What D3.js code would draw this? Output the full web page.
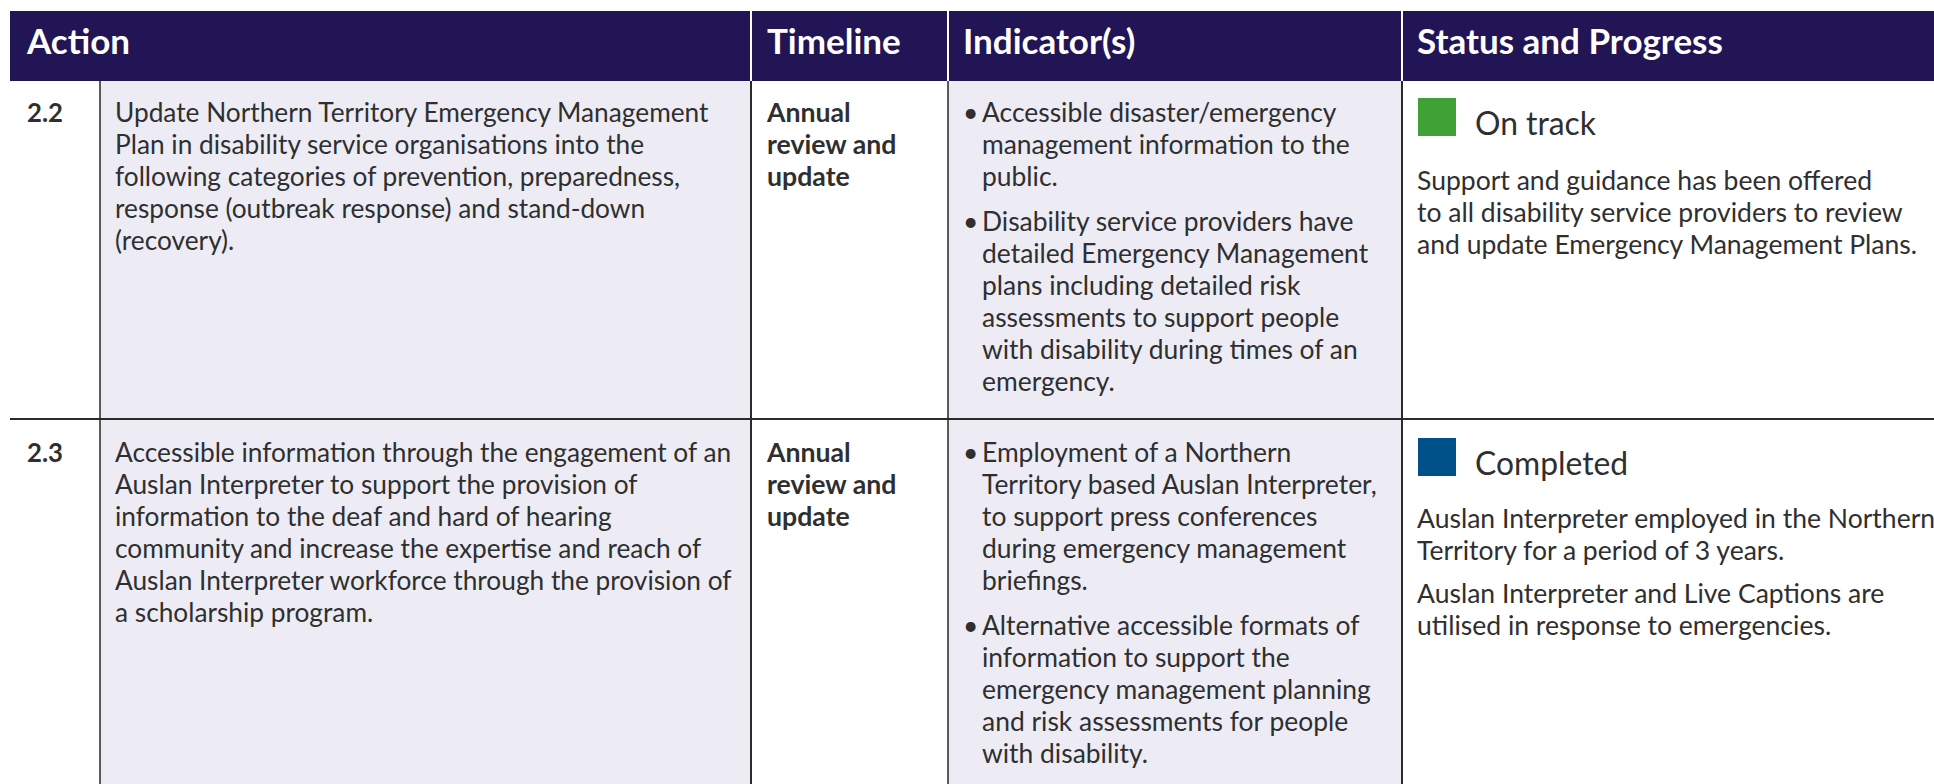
<!DOCTYPE html>
<html><head><meta charset="utf-8">
<script src="https://cdn.jsdelivr.net/npm/d3@7"></script>
<style>body{margin:0;background:#fff}svg{display:block}</style>
</head><body><svg id="c" width="1934" height="784"></svg>
<script>
// ---------- data ----------
const headers = ["Action", "Timeline", "Indicator(s)", "Status and Progress"];
const columns = ["num", "action", "timeline", "indicator", "status"];
const actionIds = ["2.2", "2.3"];
const actionText = [
  ["Update Northern Territory Emergency Management",
   "Plan in disability service organisations into the",
   "following categories of prevention, preparedness,",
   "response (outbreak response) and stand-down",
   "(recovery)."],
  ["Accessible information through the engagement of an",
   "Auslan Interpreter to support the provision of",
   "information to the deaf and hard of hearing",
   "community and increase the expertise and reach of",
   "Auslan Interpreter workforce through the provision of",
   "a scholarship program."]
];
const timelineText = [
  ["Annual", "review and", "update"],
  ["Annual", "review and", "update"]
];
const indicatorText = [
  [["Accessible disaster/emergency", "management information to the", "public."],
   ["Disability service providers have", "detailed Emergency Management", "plans including detailed risk",
    "assessments to support people", "with disability during times of an", "emergency."]],
  [["Employment of a Northern", "Territory based Auslan Interpreter,", "to support press conferences",
    "during emergency management", "briefings."],
   ["Alternative accessible formats of", "information to support the", "emergency management planning",
    "and risk assessments for people", "with disability."]]
];
const statusLabels = ["On track", "Completed"];
const statusColors = ["#3ea236", "#005189"];
const statusNotes = [
  [["Support and guidance has been offered", "to all disability service providers to review",
    "and update Emergency Management Plans."]],
  [["Auslan Interpreter employed in the Northern", "Territory for a period of 3 years."],
   ["Auslan Interpreter and Live Captions are", "utilised in response to emergencies."]]
];

// ---------- layout ----------
const W = 1934, H = 784;
const x = d3.scaleOrdinal(columns, [10, 100, 751, 948, 1402]);
const xEnd = d3.scaleOrdinal(columns, [100, 751, 948, 1402, W]);
const headerTop = 11, headerBottom = 81;
const y = d3.scaleOrdinal(actionIds, [81, 419]);
const yEnd = d3.scaleOrdinal(actionIds, [419, H + 10]);
const LH = 32;

const BODY = "Lato, 'Noto Sans', sans-serif";
const HEAD = "Lato, 'Noto Sans', sans-serif";
const ctx = document.createElement("canvas").getContext("2d");
function fit(text, weight, family, target) {
  ctx.font = `${weight} 100px ${family}`;
  return 100 * target / ctx.measureText(text).width;
}
const fsHead = fit("Status and Progress", 700, HEAD, 306);
const fsAction = fit("Update Northern Territory Emergency Management", 400, BODY, 596);
const fsNum = fit("2.2", 700, BODY, 36);
const fsTime = fit("review and", 700, BODY, 130);
const fsInd = fit("detailed Emergency Management", 400, BODY, 387);
const fsStatus = fit("and update Emergency Management Plans.", 400, BODY, 501);
const fsLabel = fit("On track", 400, BODY, 121);

const svg = d3.select("#c");
const TEXT = "#2f2f2f";

// backgrounds
const rowsG = svg.append("g");
actionIds.forEach((id) => {
  columns.forEach(c => {
    rowsG.append("rect")
      .attr("x", x(c)).attr("y", y(id))
      .attr("width", xEnd(c) - x(c)).attr("height", yEnd(id) - y(id))
      .attr("fill", (c === "action" || c === "indicator") ? "#edecf5" : "#ffffff");
  });
});

// header
svg.append("rect").attr("x", 10).attr("y", headerTop).attr("width", W - 10).attr("height", headerBottom - headerTop)
  .attr("fill", "#211555");
const headCols = ["num", "timeline", "indicator", "status"];
const headX = d3.scaleOrdinal(headCols, [27, 767, 963, 1417]);
svg.selectAll("text.h").data(headers).join("text").attr("class", "h")
  .attr("x", (d, i) => headX(headCols[i])).attr("y", 54)
  .attr("fill", "#fff").attr("font-family", HEAD).attr("font-weight", 700)
  .attr("font-size", fsHead).text(d => d);
["timeline", "indicator", "status"].forEach(c => {
  svg.append("line").attr("x1", x(c)).attr("x2", x(c)).attr("y1", headerTop).attr("y2", headerBottom)
    .attr("stroke", "#ffffff").attr("stroke-width", 2);
});

// body grid lines
actionIds.forEach(id => {
  const lineCol = { action: "#5a5a5a", timeline: "#2a2a2a", indicator: "#5a5a5a", status: "#2a2a2a" };
  ["action", "timeline", "indicator", "status"].forEach(c => {
    svg.append("line").attr("x1", x(c)).attr("x2", x(c)).attr("y1", y(id)).attr("y2", yEnd(id))
      .attr("stroke", lineCol[c]).attr("stroke-width", 2);
  });
});
svg.append("line").attr("x1", 10).attr("x2", W).attr("y1", y("2.3")).attr("y2", y("2.3"))
  .attr("stroke", "#2a2a2a").attr("stroke-width", 2);

function lines(g, arr, x0, y0, fs, weight) {
  g.selectAll(null).data(arr).join("text")
    .attr("x", x0).attr("y", (d, i) => y0 + i * LH)
    .attr("fill", TEXT).attr("font-family", BODY).attr("font-weight", weight)
    .attr("font-size", fs).text(d => d);
}

actionIds.forEach((id, r) => {
  const top = y(id);
  const base = top + (r === 0 ? 41 : 43);
  const g = svg.append("g");
  // number
  g.append("text").attr("x", 27).attr("y", base).attr("fill", TEXT)
    .attr("font-family", BODY).attr("font-weight", 700).attr("font-size", fsNum).text(id);
  lines(g, actionText[r], x("action") + 15, base, fsAction, 400);
  lines(g, timelineText[r], x("timeline") + 16, base, fsTime, 700);
  // indicators
  let yy = base;
  indicatorText[r].forEach(b => {
    g.append("text").attr("x", x("indicator") + 15).attr("y", yy).attr("fill", TEXT)
      .attr("font-family", BODY).attr("font-size", fsInd).text("•");
    lines(g.append("g"), b, x("indicator") + 34, yy, fsInd, 400);
    yy += (b.length - 1) * LH + 45;
  });
  // status
  g.append("rect").attr("x", x("status") + 16).attr("y", top + (r === 0 ? 17 : 19))
    .attr("width", 38).attr("height", 38).attr("fill", statusColors[r]);
  g.append("text").attr("x", x("status") + 73).attr("y", top + (r === 0 ? 54 : 56))
    .attr("fill", TEXT).attr("font-family", BODY).attr("font-size", fsLabel).text(statusLabels[r]);
  let sy = top + 109;
  statusNotes[r].forEach(p => {
    lines(g.append("g"), p, x("status") + 15, sy, fsStatus, 400);
    sy += (p.length - 1) * LH + 43;
  });
});
</script>
</body></html>
